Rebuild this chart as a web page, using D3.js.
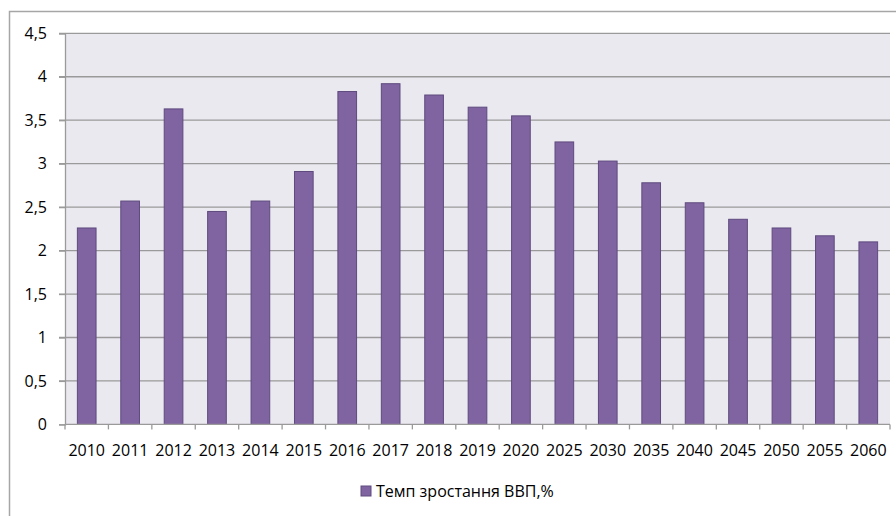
<!DOCTYPE html>
<html><head><meta charset="utf-8">
<script src="https://cdn.jsdelivr.net/npm/d3@7"></script>
<style>
html,body{margin:0;padding:0;background:#fff;}
svg{display:block;font-family:"Open Sans",sans-serif;}
</style></head>
<body>
<svg id="c" width="896" height="516"></svg>
<script>
const categories = ["2010","2011","2012","2013","2014","2015","2016","2017","2018","2019","2020","2025","2030","2035","2040","2045","2050","2055","2060"];
const values = [2.26,2.57,3.63,2.45,2.57,2.91,3.83,3.92,3.79,3.65,3.55,3.25,3.03,2.78,2.55,2.36,2.26,2.17,2.10];
const yTicks = [0,0.5,1,1.5,2,2.5,3,3.5,4,4.5];
const seriesName = "Темп зростання ВВП,%";

(function(){
const svg = d3.select("#c");
const pL = 65, pR = 890, pT = 33.3, pB = 424.4;
const FONT = "Open Sans", FS = 16;

// outer chart border
svg.append("rect").attr("x",9.5).attr("y",11.5).attr("width",900).attr("height",520)
  .attr("fill","#fff").attr("stroke","#a6a6a6").attr("stroke-width",1.5);

const x = d3.scaleBand().domain(categories).range([pL,pR]).paddingInner(0.57).paddingOuter(0.285);
const y = d3.scaleLinear().domain([0,4.5]).range([pB,pT]);

svg.append("rect").attr("x",pL).attr("y",pT).attr("width",pR-pL).attr("height",pB-pT).attr("fill","#ebe9f0");

// gridlines
svg.append("g").selectAll("line").data(yTicks.filter(d=>d>0)).join("line")
  .attr("x1",pL-6).attr("x2",pR).attr("y1",d=>y(d)).attr("y2",d=>y(d))
  .attr("stroke","#9a9a9a").attr("stroke-width",1.3);

// y axis
const yAxis = d3.axisLeft(y).tickValues(yTicks).tickSize(6).tickPadding(12)
  .tickFormat(d=>String(d).replace(".",","));
const gy = svg.append("g").attr("transform",`translate(${pL},0)`).call(yAxis);
gy.select(".domain").attr("stroke","#9a9a9a").attr("stroke-width",1.3);
gy.selectAll(".tick line").attr("stroke","#9a9a9a").attr("stroke-width",1.3);
gy.selectAll("text").attr("font-size",FS).attr("fill","#000").attr("font-family",FONT);

// bars
svg.append("g").selectAll("rect").data(values).join("rect")
  .attr("x",(d,i)=>x(categories[i])).attr("width",x.bandwidth())
  .attr("y",d=>y(d)).attr("height",d=>y(0)-y(d))
  .attr("fill","#8064a2").attr("stroke","#5e4a7d").attr("stroke-width",1);

// x axis
const bounds = d3.range(categories.length+1).map(i=>pL+i*(pR-pL)/categories.length);
const gx = svg.append("g");
gx.append("line").attr("x1",pL).attr("x2",pR).attr("y1",pB).attr("y2",pB)
  .attr("stroke","#9a9a9a").attr("stroke-width",1.3);
gx.selectAll("line.t").data(bounds).join("line").attr("class","t")
  .attr("x1",d=>d).attr("x2",d=>d).attr("y1",pB).attr("y2",pB+5)
  .attr("stroke","#9a9a9a").attr("stroke-width",1.3);
gx.selectAll("text").data(categories).join("text")
  .attr("x",d=>x(d)+x.bandwidth()/2).attr("y",456).attr("text-anchor","middle")
  .attr("font-size",FS).attr("font-family",FONT).attr("fill","#000").text(d=>d);

// legend
const lg = svg.append("g");
lg.append("rect").attr("x",361).attr("y",486).attr("width",10).attr("height",10)
  .attr("fill","#8064a2").attr("stroke","#5e4a7d").attr("stroke-width",1);
lg.append("text").attr("x",376).attr("y",497).attr("font-size",FS).attr("font-family",FONT)
  .attr("fill","#000").text(seriesName);
})();
</script>
</body></html>
